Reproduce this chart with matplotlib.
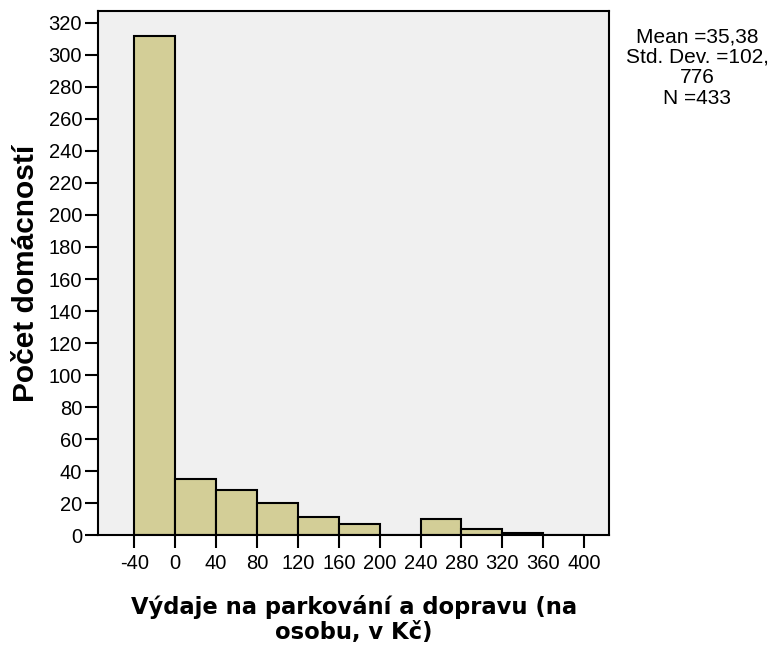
import matplotlib
matplotlib.use("Agg")
import matplotlib.pyplot as plt
import numpy as np

# histogram bins (Kč per person) and household counts
bin_edges = [-40, 0, 40, 80, 120, 160, 200, 240, 280, 320, 360, 400]
counts = [312, 35, 28, 20, 11, 7, 0, 10, 4, 1, 0]
x_ticks = [-40, 0, 40, 80, 120, 160, 200, 240, 280, 320, 360, 400]
y_ticks = list(range(0, 321, 20))
stats_text = "Mean =35,38\nStd. Dev. =102,\n776\nN =433"

plt.rcParams["font.family"] = ["Liberation Sans", "DejaVu Sans"]
plt.rcParams["axes.unicode_minus"] = False

fig = plt.figure(figsize=(7.84, 6.46), dpi=100)
ax = fig.add_axes([0.125, 0.1718, 0.652, 0.8112])
ax.set_facecolor("#F0F0F0")

lefts = np.array(bin_edges[:-1])
widths = np.diff(bin_edges)
ax.bar(lefts, counts, width=widths, align="edge", color="#D3CE97",
       edgecolor="black", linewidth=1.5)

ax.set_xlim(-75.5, 424.5)
ax.set_ylim(0, 327.5)
ax.set_xticks(x_ticks)
ax.set_yticks(y_ticks)
ax.tick_params(axis="both", direction="out", length=9.5, width=1.5,
               labelsize=14.5, color="black", pad=2)
ax.tick_params(axis="x", pad=4)
for s in ax.spines.values():
    s.set_linewidth(1.5)
    s.set_color("black")

ax.set_ylabel("Počet domácností", fontsize=21.5, fontweight="bold", labelpad=6)
ax.set_xlabel("Výdaje na parkování a dopravu (na\nosobu, v Kč)",
              fontsize=16.3, fontweight="bold", family="DejaVu Sans",
              labelpad=16, linespacing=1.1)

fig.text(0.889, 0.958, stats_text, ha="center", va="top", fontsize=15,
         linespacing=1.1)

fig.savefig("out.png", dpi=100)
